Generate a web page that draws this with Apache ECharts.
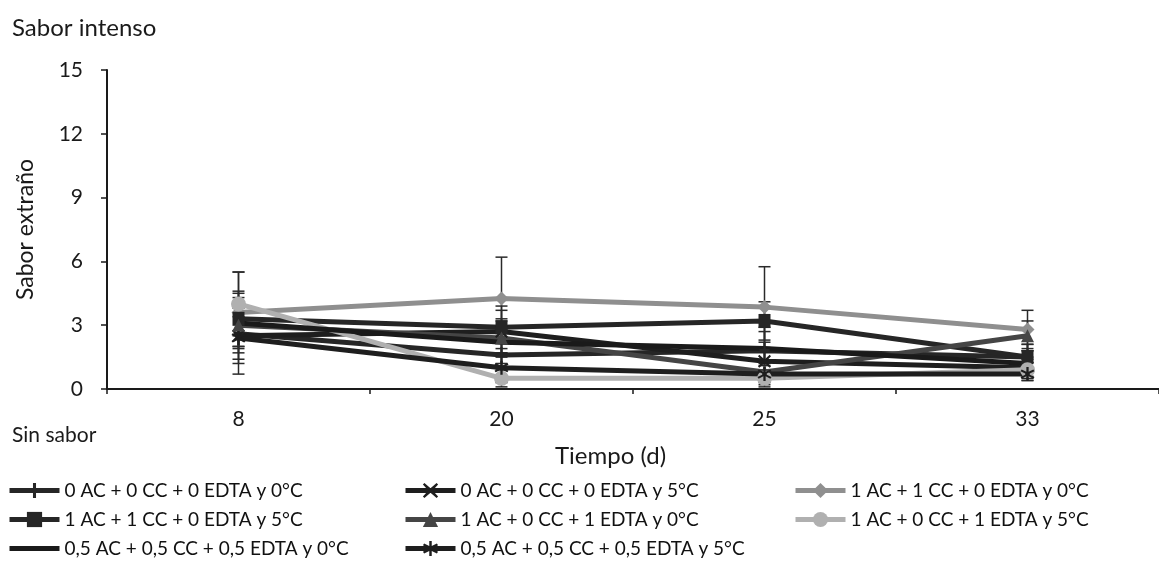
<!DOCTYPE html>
<html>
<head>
<meta charset="utf-8">
<script src="https://cdn.jsdelivr.net/npm/echarts@6/dist/echarts.min.js"></script>
<style>
html,body{margin:0;padding:0;background:#fff;}
#chart{width:1159px;height:576px;}
</style>
</head>
<body>
<div id="chart"></div>
<script>
const categories = ['8', '20', '25', '33'];
const yMin = 0, yMax = 15, yInterval = 3;

const names = [
  '0 AC + 0 CC + 0 EDTA y 0°C',
  '0 AC + 0 CC + 0 EDTA y 5°C',
  '1 AC + 1 CC + 0 EDTA y 0°C',
  '1 AC + 1 CC + 0 EDTA y 5°C',
  '1 AC + 0 CC + 1 EDTA y 0°C',
  '1 AC + 0 CC + 1 EDTA y 5°C',
  '0,5 AC + 0,5 CC + 0,5 EDTA y 0°C',
  '0,5 AC + 0,5 CC + 0,5 EDTA y 5°C'
];

const s1 = [2.6, 1.6, 1.8, 1.5];
const s2 = [2.5, 2.7, 1.3, 1.0];
const s3 = [3.6, 4.25, 3.85, 2.8];
const s4 = [3.3, 2.9, 3.2, 1.5];
const s5 = [3.0, 2.4, 0.8, 2.5];
const s6 = [4.0, 0.5, 0.5, 0.9];
const s7 = [3.1, 2.2, 1.9, 1.2];
const s8 = [2.4, 1.0, 0.7, 0.7];

const e1 = [1.9, 1.2, 1.1, 0.6];
const e2 = [1.3, 1.0, 0.9, 0.5];
const e3 = [1.9, 1.95, 1.9, 0.9];
const e4 = [1.3, 1.0, 0.9, 0.6];
const e5 = [1.0, 0.9, 0.5, 0.7];
const e6 = [1.5, 0.4, 0.4, 0.5];
const e7 = [1.2, 1.0, 0.8, 0.6];
const e8 = [1.0, 0.7, 0.5, 0.3];

const values = [s1, s2, s3, s4, s5, s6, s7, s8];
const errors = [e1, e2, e3, e4, e5, e6, e7, e8];

const plusPath = 'path://M4,0H6V4H10V6H6V10H4V6H0V4H4Z';
const xPath = 'path://M1,0L5,3.6L9,0L10,1L6.4,5L10,9L9,10L5,6.4L1,10L0,9L3.6,5L0,1Z';
const starPath = 'path://M4.3,0H5.7V3.4L8.6,1.7L9.3,2.9L6.4,4.6V5.4L9.3,7.1L8.6,8.3L5.7,6.6V10H4.3V6.6L1.4,8.3L0.7,7.1L3.6,5.4V4.6L0.7,2.9L1.4,1.7L4.3,3.4Z';
const barPath = 'path://M0,0H50V5H0Z';

const styles = [
  {color: '#262626', symbol: plusPath, size: [10, 16], width: 5},
  {color: '#1e1e1e', symbol: xPath, size: 13, width: 5},
  {color: '#8f8f8f', symbol: 'diamond', size: 14, width: 5},
  {color: '#262626', symbol: 'rect', size: [12, 14], width: 5},
  {color: '#454545', symbol: 'triangle', size: 13, width: 5},
  {color: '#b0b0b0', symbol: 'circle', size: 15, width: 5},
  {color: '#1a1a1a', symbol: 'none', size: 0, width: 5},
  {color: '#1e1e1e', symbol: starPath, size: 14, width: 5}
];

const series = [];
names.forEach(function (n, i) {
  const st = styles[i];
  series.push({
    name: n,
    type: 'line',
    data: values[i],
    symbol: st.symbol,
    symbolSize: st.size,
    showSymbol: st.symbol !== 'none',
    lineStyle: {color: st.color, width: st.width},
    itemStyle: {color: st.color},
    z: 3
  });
});
names.forEach(function (n, i) {
  series.push({
    name: n + ' err',
    type: 'custom',
    z: 2,
    silent: true,
    data: values[i].map(function (v, j) { return [j, v, errors[i][j]]; }),
    renderItem: function (params, api) {
      const x = api.value(0), y = api.value(1), e = api.value(2);
      const top = api.coord([x, y + e]);
      const bot = api.coord([x, Math.max(0, y - e)]);
      const h = 6;
      const style = {stroke: '#2a2a2a', lineWidth: 1.5};
      return {
        type: 'group',
        children: [
          {type: 'line', shape: {x1: top[0], y1: top[1], x2: bot[0], y2: bot[1]}, style: style},
          {type: 'line', shape: {x1: top[0] - h, y1: top[1], x2: top[0] + h, y2: top[1]}, style: style},
          {type: 'line', shape: {x1: bot[0] - h, y1: bot[1], x2: bot[0] + h, y2: bot[1]}, style: style}
        ]
      };
    }
  });
});

const font = 'Lato, "Open Sans", sans-serif';
function legendCol(left, items) {
  return {
    left: left, top: 481, orient: 'vertical', itemGap: 10, padding: 0,
    itemWidth: 50, itemHeight: 19,
    lineStyle: {width: 5},
    data: items.map(function (k) {
      return styles[k].symbol === 'none' ? {name: names[k], icon: barPath, itemStyle: {color: styles[k].color}} : names[k];
    }),
    textStyle: {fontFamily: font, fontSize: 19, color: '#111111'},
    selectedMode: false
  };
}

const chart = echarts.init(document.getElementById('chart'), null, {renderer: 'canvas'});
chart.setOption({
  animation: false,
  backgroundColor: '#ffffff',
  grid: {left: 107, right: -8, top: 70, bottom: 187, containLabel: false},
  xAxis: {
    type: 'category',
    data: categories,
    boundaryGap: true,
    axisLine: {lineStyle: {color: '#1a1a1a', width: 2}},
    axisTick: {show: true, inside: false, length: 5, lineStyle: {color: '#1a1a1a', width: 1.5}},
    axisLabel: {fontFamily: font, fontSize: 21, color: '#1a1a1a', margin: 20},
    splitLine: {show: false}
  },
  yAxis: {
    type: 'value',
    min: yMin, max: yMax, interval: yInterval,
    name: 'Sabor extraño',
    nameLocation: 'middle',
    nameGap: 70,
    nameRotate: 90,
    nameTextStyle: {fontFamily: font, fontSize: 23, color: '#1a1a1a'},
    axisLine: {show: true, lineStyle: {color: '#1a1a1a', width: 2}},
    axisTick: {show: true, length: 6, lineStyle: {color: '#1a1a1a', width: 1.5}},
    axisLabel: {fontFamily: font, fontSize: 21, color: '#1a1a1a', margin: 24},
    splitLine: {show: false}
  },
  legend: [legendCol(7, [0, 3, 6]), legendCol(403, [1, 4, 7]), legendCol(793, [2, 5])],
  graphic: [
    {type: 'text', left: 12, top: 16, style: {text: 'Sabor intenso', fontFamily: font, fontSize: 24, fill: '#1a1a1a'}},
    {type: 'text', left: 12, top: 425, style: {text: 'Sin sabor', fontFamily: font, fontSize: 21, fill: '#1a1a1a'}},
    {type: 'text', left: 555, top: 444, style: {text: 'Tiempo (d)', fontFamily: font, fontSize: 24, fill: '#1a1a1a'}}
  ],
  series: series
});
</script>
</body>
</html>
